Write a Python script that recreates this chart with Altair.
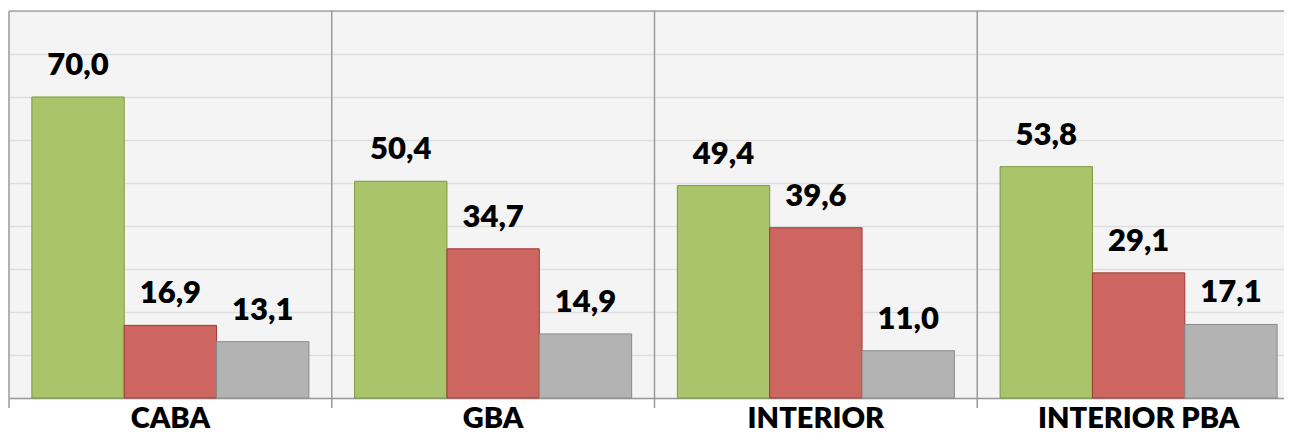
import altair as alt
import pandas as pd

regions = ["CABA", "GBA", "INTERIOR", "INTERIOR PBA"]
series = ["Serie 1", "Serie 2", "Serie 3"]
serie1 = [70.0, 50.4, 49.4, 53.8]
serie2 = [16.9, 34.7, 39.6, 29.1]
serie3 = [13.1, 14.9, 11.0, 17.1]
colors = ["#AAC46C", "#CD6661", "#B3B3B3"]
strokes = ["#7D9A3C", "#9E3A35", "#8A8A8A"]

rows = []
for i, r in enumerate(regions):
    for s, vals in zip(series, [serie1, serie2, serie3]):
        v = vals[i]
        rows.append({"region": r, "serie": s, "value": v,
                     "label": f"{v:.1f}".replace(".", ",")})
df = pd.DataFrame(rows)
sep_df = pd.DataFrame({"region": regions})

FONT = "Lato"
SEP = "#9A9A9A"

x = alt.X("region:N", sort=regions,
          scale=alt.Scale(range=[0, 1291], paddingInner=0.1416, paddingOuter=0.0708),
          axis=alt.Axis(title=None, grid=False, ticks=False,
                        domainColor=SEP, domainWidth=1.5,
                        labelFont=FONT, labelFontSize=29, labelFontWeight=800,
                        labelColor="#000000", labelPadding=29, labelAngle=0,
                        labelBaseline="alphabetic", labelLimit=500))
xo = alt.XOffset("serie:N", sort=series, scale=alt.Scale(paddingInner=0, paddingOuter=0))
y = alt.Y("value:Q", scale=alt.Scale(domain=[0, 90], nice=False),
          axis=alt.Axis(title=None, labels=False, ticks=False, domain=False,
                        grid=True, values=list(range(0, 91, 10)),
                        gridColor="#DEDEDE", gridWidth=1.5))

# group separators: band starts of an unpadded band scale over the same range
seps = alt.Chart(sep_df).mark_rule(color=SEP, strokeWidth=1.5).encode(
    x=alt.X("region:N", sort=regions, bandPosition=0, axis=None,
            scale=alt.Scale(range=[0, 1291], paddingInner=0, paddingOuter=0)),
    y=alt.value(0), y2=alt.value(397),
)

base = alt.Chart(df)
bars = base.mark_bar(strokeWidth=1).encode(
    x=x, xOffset=xo, y=y,
    color=alt.Color("serie:N", sort=series, scale=alt.Scale(domain=series, range=colors), legend=None),
    stroke=alt.Stroke("serie:N", sort=series, scale=alt.Scale(domain=series, range=strokes), legend=None),
)
texts = base.mark_text(font=FONT, fontSize=31, fontWeight=800, color="#000000",
                       baseline="alphabetic", dy=-22).encode(
    x=x, xOffset=xo, y=y, text="label:N")
top = alt.Chart(pd.DataFrame({"t": [90]})).mark_rule(color="#A6A6A6", strokeWidth=1.5).encode(
    y=alt.Y("t:Q", scale=alt.Scale(domain=[0, 90], nice=False)))

main = alt.layer(bars, texts, top)
chart = alt.layer(main, seps).resolve_scale(x="independent").properties(
    width=1275, height=387,
    autosize=alt.AutoSizeParams(type="none"),
    padding={"left": 1, "top": 3, "right": 0, "bottom": 38},
    background="#FFFFFF",
).configure_view(fill="#F4F4F4", stroke=None)

chart.save("out.html", embed_options={"renderer": "svg", "actions": False})
